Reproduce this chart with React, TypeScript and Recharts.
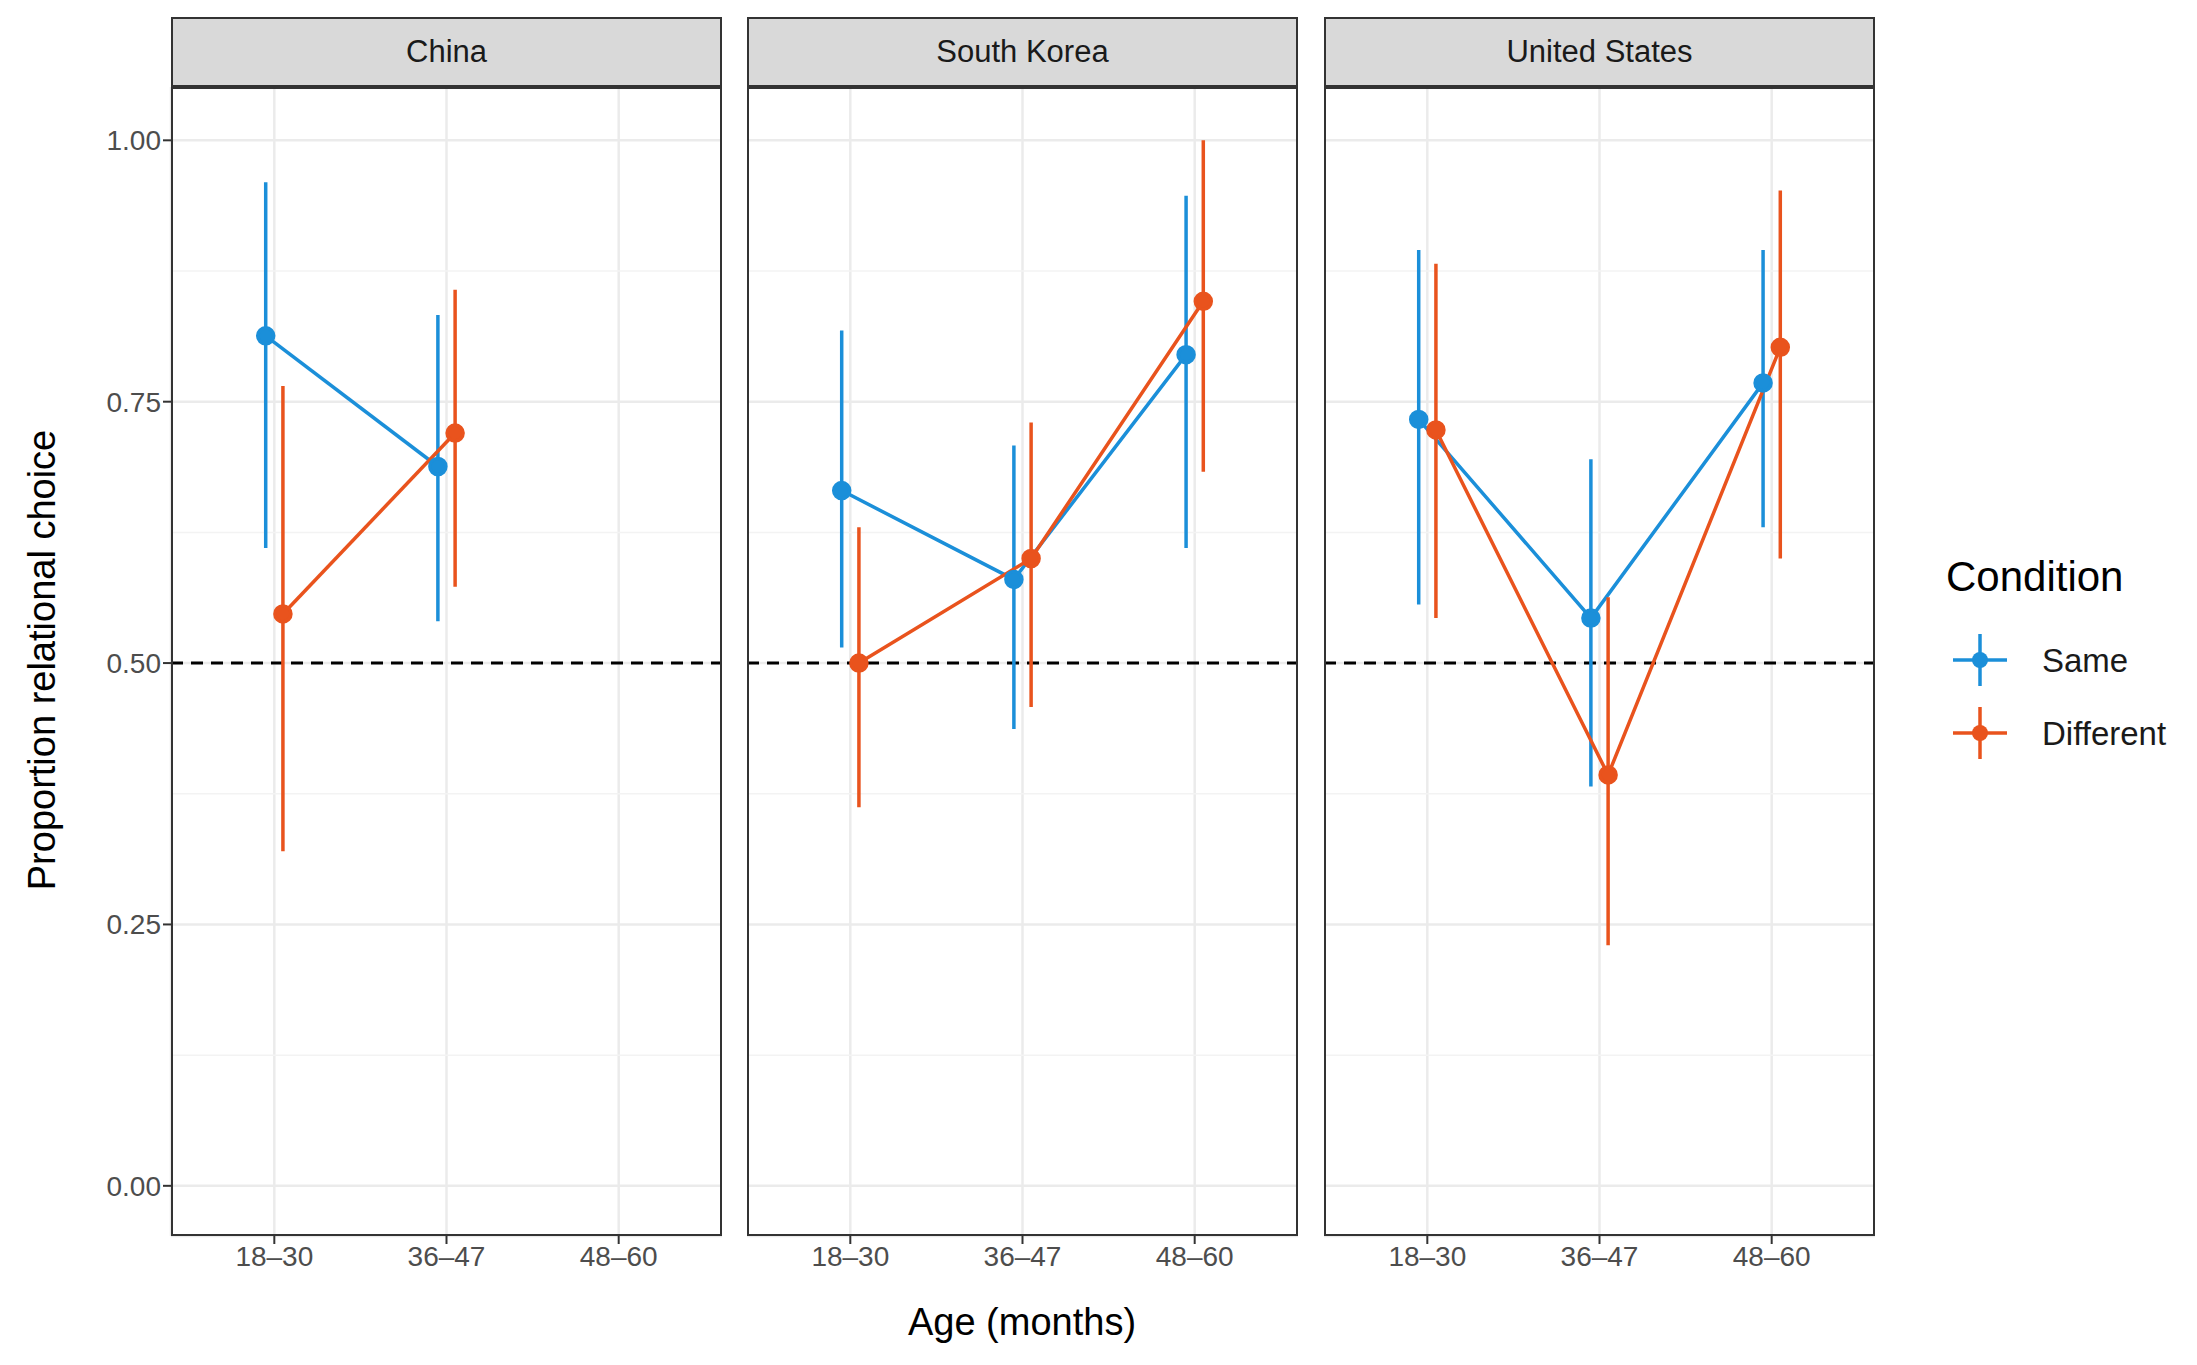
import React from "react";
import { LineChart, Line, XAxis, YAxis, CartesianGrid, ErrorBar, ReferenceLine } from "recharts";

const ageGroups = ["18–30", "36–47", "48–60"];
const countries = ["China", "South Korea", "United States"];
const yTicks = [0, 0.25, 0.5, 0.75, 1];
const minorTicks = [0.125, 0.375, 0.625, 0.875];

// [mean, low, high] per age group, null where no data
const sameValues: ([number, number, number] | null)[][] = [
  [[0.813, 0.61, 0.96], [0.688, 0.54, 0.833], null],
  [[0.665, 0.515, 0.818], [0.58, 0.437, 0.708], [0.795, 0.61, 0.947]],
  [[0.733, 0.556, 0.895], [0.543, 0.382, 0.695], [0.768, 0.63, 0.895]],
];
const differentValues: ([number, number, number] | null)[][] = [
  [[0.547, 0.32, 0.765], [0.72, 0.573, 0.857], null],
  [[0.5, 0.362, 0.63], [0.6, 0.458, 0.73], [0.846, 0.683, 1.0]],
  [[0.723, 0.543, 0.882], [0.393, 0.23, 0.563], [0.802, 0.6, 0.952]],
];

const BLUE = "#1b8fd9";
const ORANGE = "#e9531d";
const FONT = "'Liberation Sans', Arial, sans-serif";

const toRows = (vals: ([number, number, number] | null)[], offset: number) =>
  vals
    .map((v, i) => (v ? { x: i + 1 + offset, y: v[0], err: [v[0] - v[1], v[2] - v[0]] } : null))
    .filter(Boolean) as { x: number; y: number; err: number[] }[];

const panelLeft = [171, 747, 1324];
const panelW = 551;
const plotTop = 87;
const plotH = 1149;
const axisW = 70;

const Panel: React.FC<{ idx: number }> = ({ idx }) => {
  const first = idx === 0;
  const left = first ? panelLeft[idx] - axisW : panelLeft[idx];
  const width = first ? panelW + axisW : panelW;
  return (
    <>
      <div
        style={{
          position: "absolute", left: panelLeft[idx], top: 17, width: panelW - 4, height: 66,
          background: "#d9d9d9", border: "2px solid #333", display: "flex",
          alignItems: "center", justifyContent: "center", fontSize: 31, color: "#1a1a1a",
        }}
      >
        {countries[idx]}
      </div>
      <div style={{ position: "absolute", left, top: plotTop }}>
        <LineChart width={width} height={plotH + 60} margin={{ top: 0, right: 0, bottom: 0, left: 0 }}>
          <CartesianGrid stroke="#ebebeb" strokeWidth={2.5} />
          {minorTicks.map((t) => (
            <ReferenceLine key={t} y={t} stroke="#f3f3f3" strokeWidth={1.5} />
          ))}
          <XAxis
            type="number" dataKey="x" domain={[0.4, 3.6]} ticks={[1, 2, 3]}
            tickFormatter={(v) => ageGroups[v - 1]} axisLine={false}
            tickLine={{ stroke: "#333", strokeWidth: 2 }} tickSize={8} height={60}
            tick={{ fill: "#4d4d4d", fontSize: 28, fontFamily: FONT }} allowDuplicatedCategory={false}
          />
          <YAxis
            type="number" domain={[-0.048, 1.051]} ticks={yTicks} hide={!first} width={axisW}
            tickFormatter={(v) => v.toFixed(2)} axisLine={false}
            tickLine={{ stroke: "#333", strokeWidth: 2 }} tickSize={8}
            tick={{ fill: "#4d4d4d", fontSize: 28, fontFamily: FONT }} allowDataOverflow
          />
          <ReferenceLine y={0.5} stroke="#000" strokeWidth={3} strokeDasharray="12 8" />
          <Line
            data={toRows(sameValues[idx], -0.05)} dataKey="y" stroke={BLUE} strokeWidth={3.5}
            dot={{ r: 8, fill: BLUE, stroke: BLUE }} isAnimationActive={false}
          >
            <ErrorBar dataKey="err" direction="y" width={0} stroke={BLUE} strokeWidth={3.5} />
          </Line>
          <Line
            data={toRows(differentValues[idx], 0.05)} dataKey="y" stroke={ORANGE} strokeWidth={3.5}
            dot={{ r: 8, fill: ORANGE, stroke: ORANGE }} isAnimationActive={false}
          >
            <ErrorBar dataKey="err" direction="y" width={0} stroke={ORANGE} strokeWidth={3.5} />
          </Line>
        </LineChart>
      </div>
      <div
        style={{
          position: "absolute", left: panelLeft[idx], top: plotTop, width: panelW - 4,
          height: plotH - 4, border: "2px solid #333", pointerEvents: "none",
        }}
      />
    </>
  );
};

const LegendKey: React.FC<{ color: string; label: string; top: number }> = ({ color, label, top }) => (
  <div style={{ position: "absolute", left: 1950, top, width: 280, height: 60 }}>
    <svg width={60} height={60} style={{ position: "absolute", left: 0, top: 0 }}>
      <line x1={3} x2={57} y1={30} y2={30} stroke={color} strokeWidth={3.5} />
      <line x1={30} x2={30} y1={4} y2={56} stroke={color} strokeWidth={3.5} />
      <circle cx={30} cy={30} r={8} fill={color} />
    </svg>
    <span style={{ position: "absolute", left: 92, top: 12, fontSize: 33, color: "#1a1a1a" }}>{label}</span>
  </div>
);

const App: React.FC = () => (
  <div style={{ position: "absolute", left: 0, top: 0, width: 2197, height: 1365, background: "#fff", fontFamily: FONT }}>
    {countries.map((_, i) => (
      <Panel key={i} idx={i} />
    ))}
    <div
      style={{
        position: "absolute", left: 42, top: 660, transform: "translate(-50%, -50%) rotate(-90deg)",
        fontSize: 38, whiteSpace: "nowrap", color: "#000",
      }}
    >
      Proportion relational choice
    </div>
    <div style={{ position: "absolute", left: 1022, top: 1322, transform: "translate(-50%, -50%)", fontSize: 38, color: "#000" }}>
      Age (months)
    </div>
    <div style={{ position: "absolute", left: 1946, top: 553, fontSize: 42, color: "#000" }}>Condition</div>
    <LegendKey color={BLUE} label="Same" top={630} />
    <LegendKey color={ORANGE} label="Different" top={703} />
  </div>
);

export default App;
